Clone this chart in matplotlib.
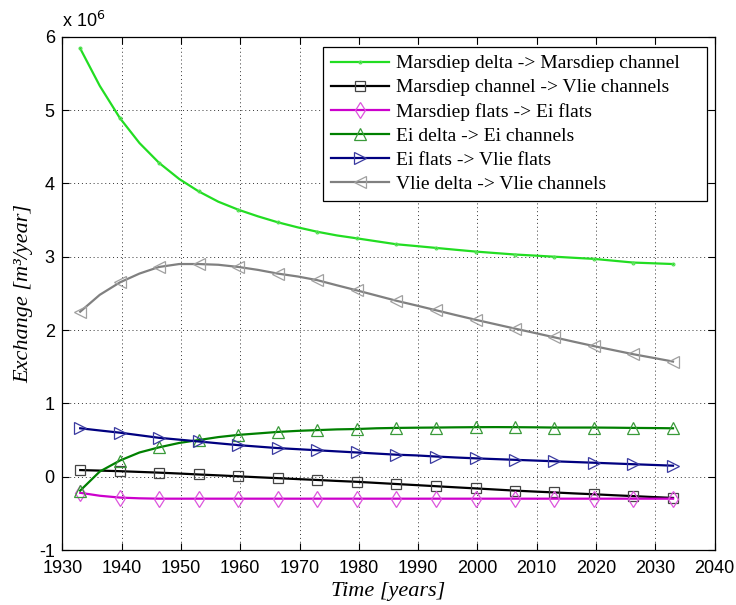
import matplotlib
matplotlib.use("Agg")
import matplotlib.pyplot as plt

# Simulation years (line samples); markers on every second sample
years = [1933.0, 1936.3, 1939.7, 1943.0, 1946.3, 1949.7, 1953.0, 1956.3, 1959.7,
         1963.0, 1966.3, 1969.7, 1973.0, 1976.3, 1979.7, 1983.0, 1986.3, 1989.7,
         1993.0, 1996.3, 1999.7, 2003.0, 2006.3, 2009.7, 2013.0, 2016.3, 2019.7,
         2023.0, 2026.3, 2029.7, 2033.0]

# Exchange rates in 10^6 m^3/year
marsdiep_delta_channel = [5.84, 5.33, 4.89, 4.55, 4.28, 4.06, 3.89, 3.75, 3.64,
                          3.55, 3.47, 3.40, 3.34, 3.29, 3.25, 3.21, 3.17, 3.145,
                          3.12, 3.095, 3.07, 3.05, 3.03, 3.015, 3.00, 2.985, 2.97,
                          2.945, 2.92, 2.91, 2.90]
marsdiep_channel_vlie = [0.09, 0.083, 0.075, 0.065, 0.055, 0.043, 0.03, 0.018, 0.005,
                         -0.008, -0.02, -0.033, -0.045, -0.058, -0.07, -0.085, -0.10,
                         -0.115, -0.13, -0.145, -0.16, -0.175, -0.19, -0.203, -0.215,
                         -0.228, -0.24, -0.253, -0.265, -0.278, -0.29]
marsdiep_flats_ei = [-0.22, -0.26, -0.285, -0.295, -0.30, -0.30, -0.30, -0.30, -0.30,
                     -0.30, -0.30, -0.30, -0.30, -0.30, -0.30, -0.30, -0.30, -0.30,
                     -0.30, -0.30, -0.30, -0.30, -0.30, -0.30, -0.30, -0.30, -0.30,
                     -0.30, -0.30, -0.30, -0.30]
ei_delta_channels = [-0.19, 0.07, 0.22, 0.33, 0.40, 0.46, 0.50, 0.54, 0.57,
                     0.59, 0.61, 0.625, 0.635, 0.645, 0.65, 0.66, 0.665, 0.668,
                     0.67, 0.673, 0.675, 0.676, 0.675, 0.673, 0.67, 0.67, 0.67,
                     0.668, 0.665, 0.663, 0.66]
ei_flats_vlie = [0.66, 0.63, 0.60, 0.565, 0.53, 0.505, 0.48, 0.455, 0.43,
                 0.41, 0.39, 0.375, 0.36, 0.345, 0.33, 0.315, 0.30, 0.29,
                 0.275, 0.262, 0.25, 0.24, 0.23, 0.22, 0.21, 0.20, 0.19,
                 0.18, 0.17, 0.16, 0.15]
vlie_delta_channels = [2.25, 2.48, 2.65, 2.77, 2.86, 2.90, 2.90, 2.89, 2.86,
                       2.82, 2.77, 2.73, 2.68, 2.61, 2.54, 2.47, 2.40, 2.335,
                       2.27, 2.205, 2.14, 2.08, 2.02, 1.96, 1.90, 1.84, 1.78,
                       1.725, 1.67, 1.62, 1.57]

labels = ["Marsdiep delta -> Marsdiep channel",
          "Marsdiep channel -> Vlie channels",
          "Marsdiep flats -> Ei flats",
          "Ei delta -> Ei channels",
          "Ei flats -> Vlie flats",
          "Vlie delta -> Vlie channels"]

xticks = [1930, 1940, 1950, 1960, 1970, 1980, 1990, 2000, 2010, 2020, 2030, 2040]
yticks = [-1, 0, 1, 2, 3, 4, 5, 6]

series = [marsdiep_delta_channel, marsdiep_channel_vlie, marsdiep_flats_ei,
          ei_delta_channels, ei_flats_vlie, vlie_delta_channels]
styles = [
    dict(color="#22dd22", mec="#55e055", marker=".", ms=4),
    dict(color="#000000", mec="#444444", marker="s", ms=7),
    dict(color="#cc00cc", mec="#dd55dd", marker="d", ms=8),
    dict(color="#008000", mec="#3a9a3a", marker="^", ms=8),
    dict(color="#000080", mec="#3a3aa0", marker=">", ms=8),
    dict(color="#808080", mec="#a0a0a0", marker="<", ms=8),
]

plt.rcParams["font.family"] = ["Liberation Sans", "DejaVu Sans"]
plt.rcParams["axes.unicode_minus"] = False

fig = plt.figure(figsize=(7.36, 6.05), dpi=100)
ax = fig.add_axes([0.0848, 0.0909, 0.886, 0.8484])

for vals, lab, st in zip(series, labels, styles):
    ax.plot(years, vals, color=st["color"], lw=1.6, marker=st["marker"],
            ms=st["ms"], mfc="none", mec=st["mec"], mew=0.9,
            markevery=2, label=lab)

ax.set_xlim(1930, 2040)
ax.set_ylim(-1, 6)
ax.set_xticks(xticks)
ax.set_yticks(yticks)
ax.tick_params(direction="in", top=True, right=True, labelsize=13, length=5,
               width=0.8)
ax.tick_params(axis="x", pad=7)
ax.tick_params(axis="y", pad=5.5)
ax.grid(True, linestyle=(0, (1, 3)), color="#333333", linewidth=0.7)
for sp in ax.spines.values():
    sp.set_linewidth(0.9)

ax.set_xlabel("Time [years]", family=["Liberation Serif"], style="italic",
              fontsize=16, labelpad=4)
ax.set_ylabel("Exchange [m³/year]", family=["Liberation Serif"], style="italic",
              fontsize=16, labelpad=4)

ax.text(0.0, 1.012, r"x 10$^{6}$", transform=ax.transAxes, fontsize=13,
        ha="left", va="bottom")

leg = ax.legend(loc="upper left", bbox_to_anchor=(0.3996, 0.678, 0.5889, 0.302),
                mode="expand",
                prop={"family": "Liberation Serif", "size": 14},
                fancybox=False, framealpha=1, edgecolor="black",
                handlelength=3.0, handletextpad=0.35, labelspacing=0.33,
                borderpad=0.4, borderaxespad=0.0)
leg.get_frame().set_linewidth(0.9)

fig.savefig("out.png", dpi=100)
